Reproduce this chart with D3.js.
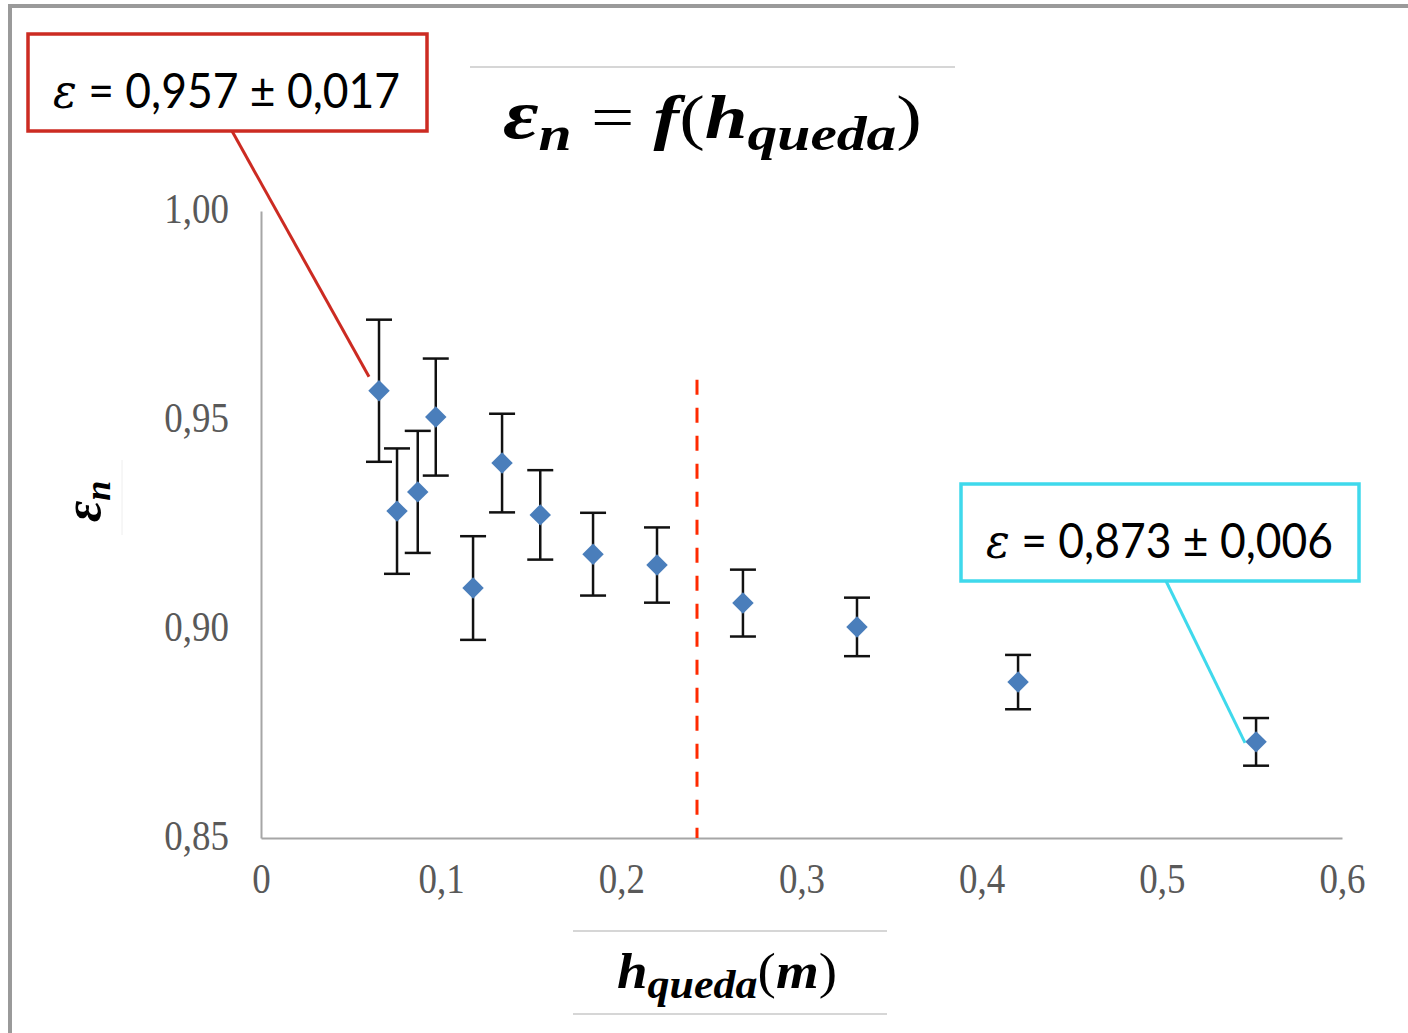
<!DOCTYPE html>
<html lang="pt">
<head>
<meta charset="UTF-8">
<title>en = f(hqueda)</title>
<script src="https://d3js.org/d3.v7.min.js"></script>
<style>
  body { margin: 0; background: #fff; }
</style>
</head>
<body>
<svg width="1408" height="1033" id="mainsvg"></svg>
<script>
// dados
const hQueda = [0.0655, 0.0755, 0.087, 0.097, 0.1177, 0.1338, 0.155, 0.1843, 0.2198, 0.2675, 0.3308, 0.4202, 0.5523];
const epsN   = [0.957, 0.9282, 0.9328, 0.9507, 0.9098, 0.9397, 0.9273, 0.9179, 0.9153, 0.9062, 0.9005, 0.8873, 0.873];
const epsErr = [0.017, 0.015, 0.0146, 0.014, 0.0124, 0.0118, 0.0107, 0.0099, 0.009, 0.008, 0.007, 0.0065, 0.0057];

const xTicks = [0, 0.1, 0.2, 0.3, 0.4, 0.5, 0.6];
const xTickLabels = ['0', '0,1', '0,2', '0,3', '0,4', '0,5', '0,6'];
const yTicks = [0.85, 0.90, 0.95, 1.00];
const yTickLabels = ['0,85', '0,90', '0,95', '1,00'];

// linha vertical tracejada
const splitH = 0.242;
const splitTop = 0.9596;

// caixas de anotação
const annoLabels = ['0,957 ± 0,017', '0,873 ± 0,006'];
const annoIndex = [0, 12];

const svg = d3.select('#mainsvg');

// moldura
svg.append('path')
  .attr('d', 'M10,1040 L10,6 L1415,6')
  .attr('fill', 'none').attr('stroke', '#9a9a9a').attr('stroke-width', 4);

const xScale = d3.scaleLinear().domain([0, 0.6]).range([261, 1342]);
const yScale = d3.scaleLinear().domain([0.85, 1.0]).range([838, 211]);

const g = svg.append('g');

// eixos
const xAxis = d3.axisBottom(xScale).tickValues(xTicks)
  .tickFormat((d, i) => xTickLabels[i]).tickSize(0).tickSizeOuter(0).tickPadding(25);
const yAxis = d3.axisLeft(yScale).tickValues(yTicks)
  .tickFormat((d, i) => yTickLabels[i]).tickSize(0).tickSizeOuter(0).tickPadding(32);

const gx = g.append('g').attr('transform', 'translate(0,838)').call(xAxis);
const gy = g.append('g').attr('transform', 'translate(261,0)').call(yAxis);

[gx, gy].forEach(a => {
  a.select('.domain').attr('stroke', '#a6a6a6').attr('stroke-width', 2);
  a.selectAll('.tick text')
    .attr('font-family', '"Liberation Serif", serif')
    .attr('font-size', 42)
    .attr('fill', '#595959');
});
gx.selectAll('.tick text').attr('transform', 'scale(0.88,1)');
gy.selectAll('.tick text').attr('x', -32 / 0.88).attr('dy', '0.28em').attr('transform', 'scale(0.88,1)');

// linha tracejada vermelha
g.append('line')
  .attr('x1', xScale(splitH)).attr('x2', xScale(splitH))
  .attr('y1', yScale(splitTop)).attr('y2', yScale(0.85))
  .attr('stroke', '#ff2a00').attr('stroke-width', 3).attr('stroke-dasharray', '15,13');

// barras de erro
const pts = hQueda.map((h, i) => ({ h: h, e: epsN[i], err: epsErr[i] }));
const cap = 13;
const eb = g.append('g').attr('stroke', '#111').attr('stroke-width', 2.5);
pts.forEach(d => {
  const x = xScale(d.h), y1 = yScale(d.e + d.err), y2 = yScale(d.e - d.err);
  eb.append('line').attr('x1', x).attr('x2', x).attr('y1', y1).attr('y2', y2);
  eb.append('line').attr('x1', x - cap).attr('x2', x + cap).attr('y1', y1).attr('y2', y1);
  eb.append('line').attr('x1', x - cap).attr('x2', x + cap).attr('y1', y2).attr('y2', y2);
});

// marcadores
g.selectAll('.pt').data(pts).join('path')
  .attr('class', 'pt')
  .attr('d', d3.symbol(d3.symbolSquare, 230))
  .attr('transform', d => `translate(${xScale(d.h)},${yScale(d.e)}) rotate(45)`)
  .attr('fill', '#4a7ebb');

// anotações
const boxes = [
  { x: 28, y: 34, w: 399, h: 97, color: '#cc2b22', lx: 232, dx: -10, dy: -14 },
  { x: 961, y: 484, w: 398, h: 97, color: '#3fd9ec', lx: 1166, dx: -11, dy: 1 }
];
boxes.forEach((b, k) => {
  const p = pts[annoIndex[k]];
  g.append('line')
    .attr('x1', b.lx).attr('y1', b.y + b.h)
    .attr('x2', xScale(p.h) + b.dx).attr('y2', yScale(p.e) + b.dy)
    .attr('stroke', b.color).attr('stroke-width', 3);
  g.append('rect')
    .attr('x', b.x).attr('y', b.y).attr('width', b.w).attr('height', b.h)
    .attr('fill', '#fff').attr('stroke', b.color).attr('stroke-width', 3.5);
  const t = g.append('text')
    .attr('x', b.x + 25).attr('y', b.y + 74)
    .attr('font-family', 'Lato, sans-serif').attr('font-size', 48).attr('fill', '#000')
    .attr('textLength', 347).attr('lengthAdjust', 'spacingAndGlyphs');
  t.append('tspan').attr('font-family', '"DejaVu Serif", serif').attr('font-style', 'italic').text('ε');
  t.append('tspan').text(' = ' + annoLabels[k]);
});

// título
svg.append('line').attr('x1', 470).attr('x2', 955).attr('y1', 67).attr('y2', 67)
  .attr('stroke', '#c8c8c8').attr('stroke-width', 1.5);
const title = svg.append('text')
  .attr('x', 503).attr('y', 138)
  .attr('font-family', '"Liberation Serif", serif').attr('font-size', 62)
  .attr('font-weight', 'bold').attr('font-style', 'italic')
  .attr('textLength', 419).attr('lengthAdjust', 'spacingAndGlyphs');
title.append('tspan').attr('font-size', 70).text('ε');
title.append('tspan').attr('dy', 12).attr('font-size', 48).text('n');
title.append('tspan').attr('dy', -12).attr('font-weight', 'normal').attr('font-style', 'normal').text(' = ');
title.append('tspan').text('f');
title.append('tspan').attr('font-weight', 'normal').attr('font-style', 'normal').text('(');
title.append('tspan').text('h');
title.append('tspan').attr('dy', 12).attr('font-size', 48).text('queda');
title.append('tspan').attr('dy', -12).attr('font-weight', 'normal').attr('font-style', 'normal').text(')');

// título eixo x
svg.append('line').attr('x1', 573).attr('x2', 887).attr('y1', 931).attr('y2', 931)
  .attr('stroke', '#c8c8c8').attr('stroke-width', 1.5);
svg.append('line').attr('x1', 573).attr('x2', 887).attr('y1', 1014).attr('y2', 1014)
  .attr('stroke', '#c8c8c8').attr('stroke-width', 1.5);
const xt = svg.append('text')
  .attr('x', 617).attr('y', 988)
  .attr('font-family', '"Liberation Serif", serif').attr('font-size', 50)
  .attr('font-weight', 'bold').attr('font-style', 'italic')
  .attr('textLength', 220).attr('lengthAdjust', 'spacingAndGlyphs');
xt.append('tspan').text('h');
xt.append('tspan').attr('dy', 10).attr('font-size', 40).text('queda');
xt.append('tspan').attr('dy', -10).attr('font-weight', 'normal').attr('font-style', 'normal').text('(');
xt.append('tspan').text('m');
xt.append('tspan').attr('font-weight', 'normal').attr('font-style', 'normal').text(')');

// título eixo y
svg.append('line').attr('x1', 122).attr('x2', 122).attr('y1', 460).attr('y2', 535)
  .attr('stroke', '#eeeeee').attr('stroke-width', 1);
const yt = svg.append('text')
  .attr('transform', 'translate(100,522) rotate(-90)')
  .attr('font-family', '"Liberation Serif", serif').attr('font-size', 46)
  .attr('font-weight', 'bold').attr('font-style', 'italic');
yt.append('tspan').attr('font-size', 52).text('ε');
yt.append('tspan').attr('dy', 10).attr('font-size', 36).text('n');
</script>
</body>
</html>
